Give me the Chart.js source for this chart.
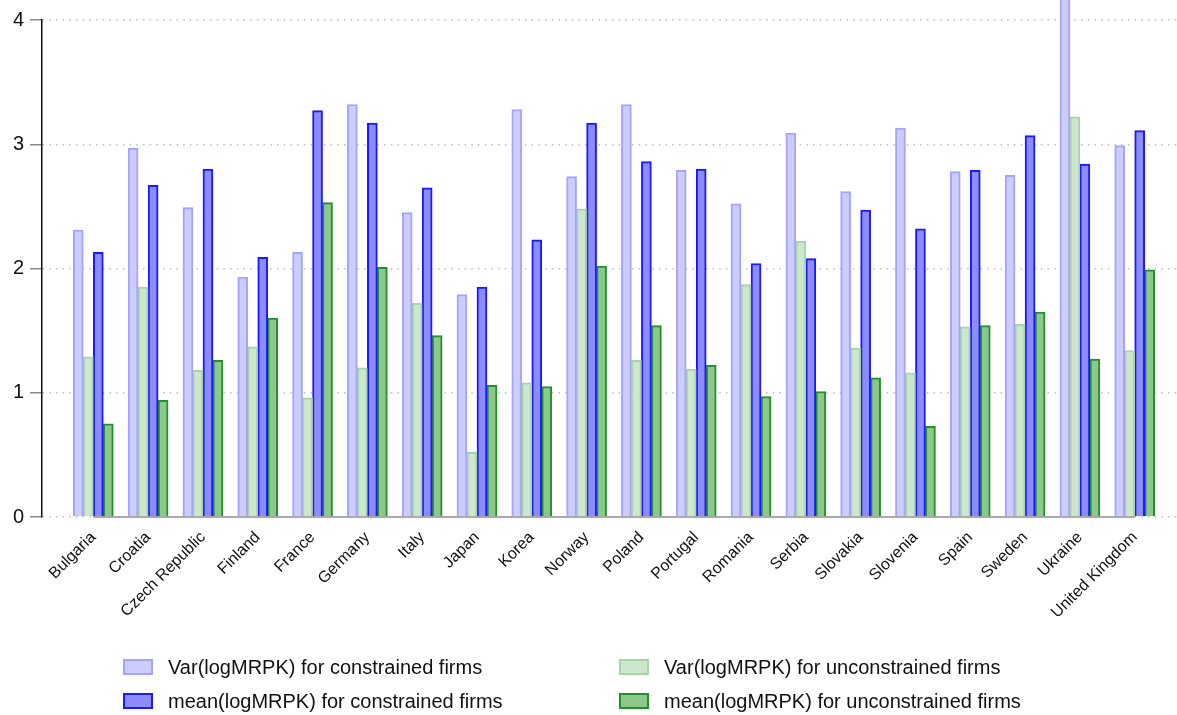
<!DOCTYPE html>
<html>
<head>
<meta charset="utf-8">
<title>logMRPK by country</title>
<script src="https://cdn.jsdelivr.net/npm/chart.js@4.4.1/dist/chart.umd.min.js"></script>
<style>
  html, body { margin: 0; padding: 0; background: #fff; }
  #wrap { width: 1177px; height: 715px; }
</style>
</head>
<body>
<div id="wrap"><canvas id="c" width="1177" height="715"></canvas></div>
<script>
// Countries along the x axis
const countries = ['Bulgaria', 'Croatia', 'Czech Republic', 'Finland', 'France', 'Germany', 'Italy', 'Japan', 'Korea', 'Norway',
  'Poland', 'Portugal', 'Romania', 'Serbia', 'Slovakia', 'Slovenia', 'Spain', 'Sweden', 'Ukraine', 'United Kingdom'];

// Series values, one per country
const varConstrained    = [2.31, 2.97, 2.49, 1.93, 2.13, 3.32, 2.45, 1.79, 3.28, 2.74, 3.32, 2.79, 2.52, 3.09, 2.62, 3.13, 2.78, 2.75, 4.30, 2.99];
const varUnconstrained  = [1.29, 1.85, 1.18, 1.37, 0.96, 1.20, 1.72, 0.52, 1.08, 2.48, 1.26, 1.19, 1.87, 2.22, 1.36, 1.16, 1.53, 1.55, 3.22, 1.34];
const meanConstrained   = [2.13, 2.67, 2.80, 2.09, 3.27, 3.17, 2.65, 1.85, 2.23, 3.17, 2.86, 2.80, 2.04, 2.08, 2.47, 2.32, 2.79, 3.07, 2.84, 3.11];
const meanUnconstrained = [0.75, 0.94, 1.26, 1.60, 2.53, 2.01, 1.46, 1.06, 1.05, 2.02, 1.54, 1.22, 0.97, 1.01, 1.12, 0.73, 1.54, 1.65, 1.27, 1.99];

// Series names
const seriesLabels = [
  'Var(logMRPK) for constrained firms',
  'Var(logMRPK) for unconstrained firms',
  'mean(logMRPK) for constrained firms',
  'mean(logMRPK) for unconstrained firms'
];

// Y axis tick values
const yTicks = [0, 1, 2, 3, 4];

const FONT = "'Liberation Sans', Arial, Helvetica, sans-serif";
Chart.defaults.font.family = FONT;

const fills   = ['#ccccff', '#cde7cd', '#8c8cff', '#8cc78c'];
const borders = ['#a4a4ff', '#a8d5a8', '#1a1aff', '#24902a'];
const seriesValues = [varConstrained, varUnconstrained, meanConstrained, meanUnconstrained];

const datasets = seriesValues.map((vals, s) => ({
  label: seriesLabels[s],
  data: vals.map((v, i) => ({ x: i, y: v })),
  backgroundColor: fills[s],
  borderColor: borders[s],
  borderWidth: 2,
  barThickness: 10,
  clip: false
}));

// Solid grey baseline running from the first to the last country
const baseline = {
  id: 'baseline',
  beforeDatasetsDraw(chart) {
    const { ctx, scales: { x, y } } = chart;
    const y0 = y.getPixelForValue(0);
    ctx.save();
    ctx.strokeStyle = '#a9a9a9';
    ctx.lineWidth = 2;
    ctx.beginPath();
    ctx.moveTo(x.getPixelForValue(0), y0);
    ctx.lineTo(x.getPixelForValue(countries.length - 1), y0);
    ctx.stroke();
    ctx.restore();
  }
};

// Two-column legend under the axis labels
const gridLegend = {
  id: 'gridLegend',
  afterDraw(chart) {
    const ctx = chart.ctx;
    const cols = [123, 619];
    const rows = [667, 701];
    chart.data.datasets.forEach((ds, i) => {
      const bx = cols[i % 2];
      const cy = rows[Math.floor(i / 2)];
      ctx.save();
      ctx.fillStyle = ds.backgroundColor;
      ctx.fillRect(bx, cy - 8, 30, 16);
      ctx.strokeStyle = ds.borderColor;
      ctx.lineWidth = 2;
      ctx.strokeRect(bx + 1, cy - 7, 28, 14);
      ctx.fillStyle = '#111';
      ctx.font = '20px ' + FONT;
      ctx.textBaseline = 'middle';
      ctx.textAlign = 'left';
      ctx.fillText(ds.label, bx + 45, cy + 1);
      ctx.restore();
    });
  }
};

new Chart(document.getElementById('c'), {
  type: 'bar',
  data: { datasets },
  plugins: [baseline, gridLegend],
  options: {
    responsive: false,
    animation: false,
    devicePixelRatio: 1,
    layout: { padding: { top: 20, right: 0, bottom: 78, left: 0 } },
    plugins: {
      legend: { display: false },
      tooltip: { enabled: false }
    },
    scales: {
      x: {
        type: 'linear',
        offset: false,
        min: -0.936,
        max: 19.772,
        afterBuildTicks(scale) {
          scale.ticks = countries.map((_, i) => ({ value: i }));
        },
        afterFit(scale) { scale.height = 120; },
        grid: { display: false, offset: false },
        border: { display: false },
        ticks: {
          autoSkip: false,
          minRotation: 45,
          maxRotation: 45,
          padding: 3,
          color: '#111',
          font: { size: 16 },
          callback: (v) => countries[v]
        }
      },
      y: {
        min: 0,
        max: 4,
        afterBuildTicks(scale) {
          scale.ticks = yTicks.map(v => ({ value: v }));
        },
        afterFit(scale) { scale.width = 42; },
        ticks: {
          padding: 6,
          color: '#111',
          font: { size: 20 }
        },
        grid: {
          color: '#bdbdbd',
          lineWidth: 1.5,
          tickLength: 12,
          tickColor: '#8a8a8a',
          tickWidth: 1.5,
          tickBorderDash: []
        },
        border: {
          display: true,
          color: '#111',
          width: 1.5,
          dash: [1.5, 5.2]
        }
      }
    }
  }
});
</script>
</body>
</html>
